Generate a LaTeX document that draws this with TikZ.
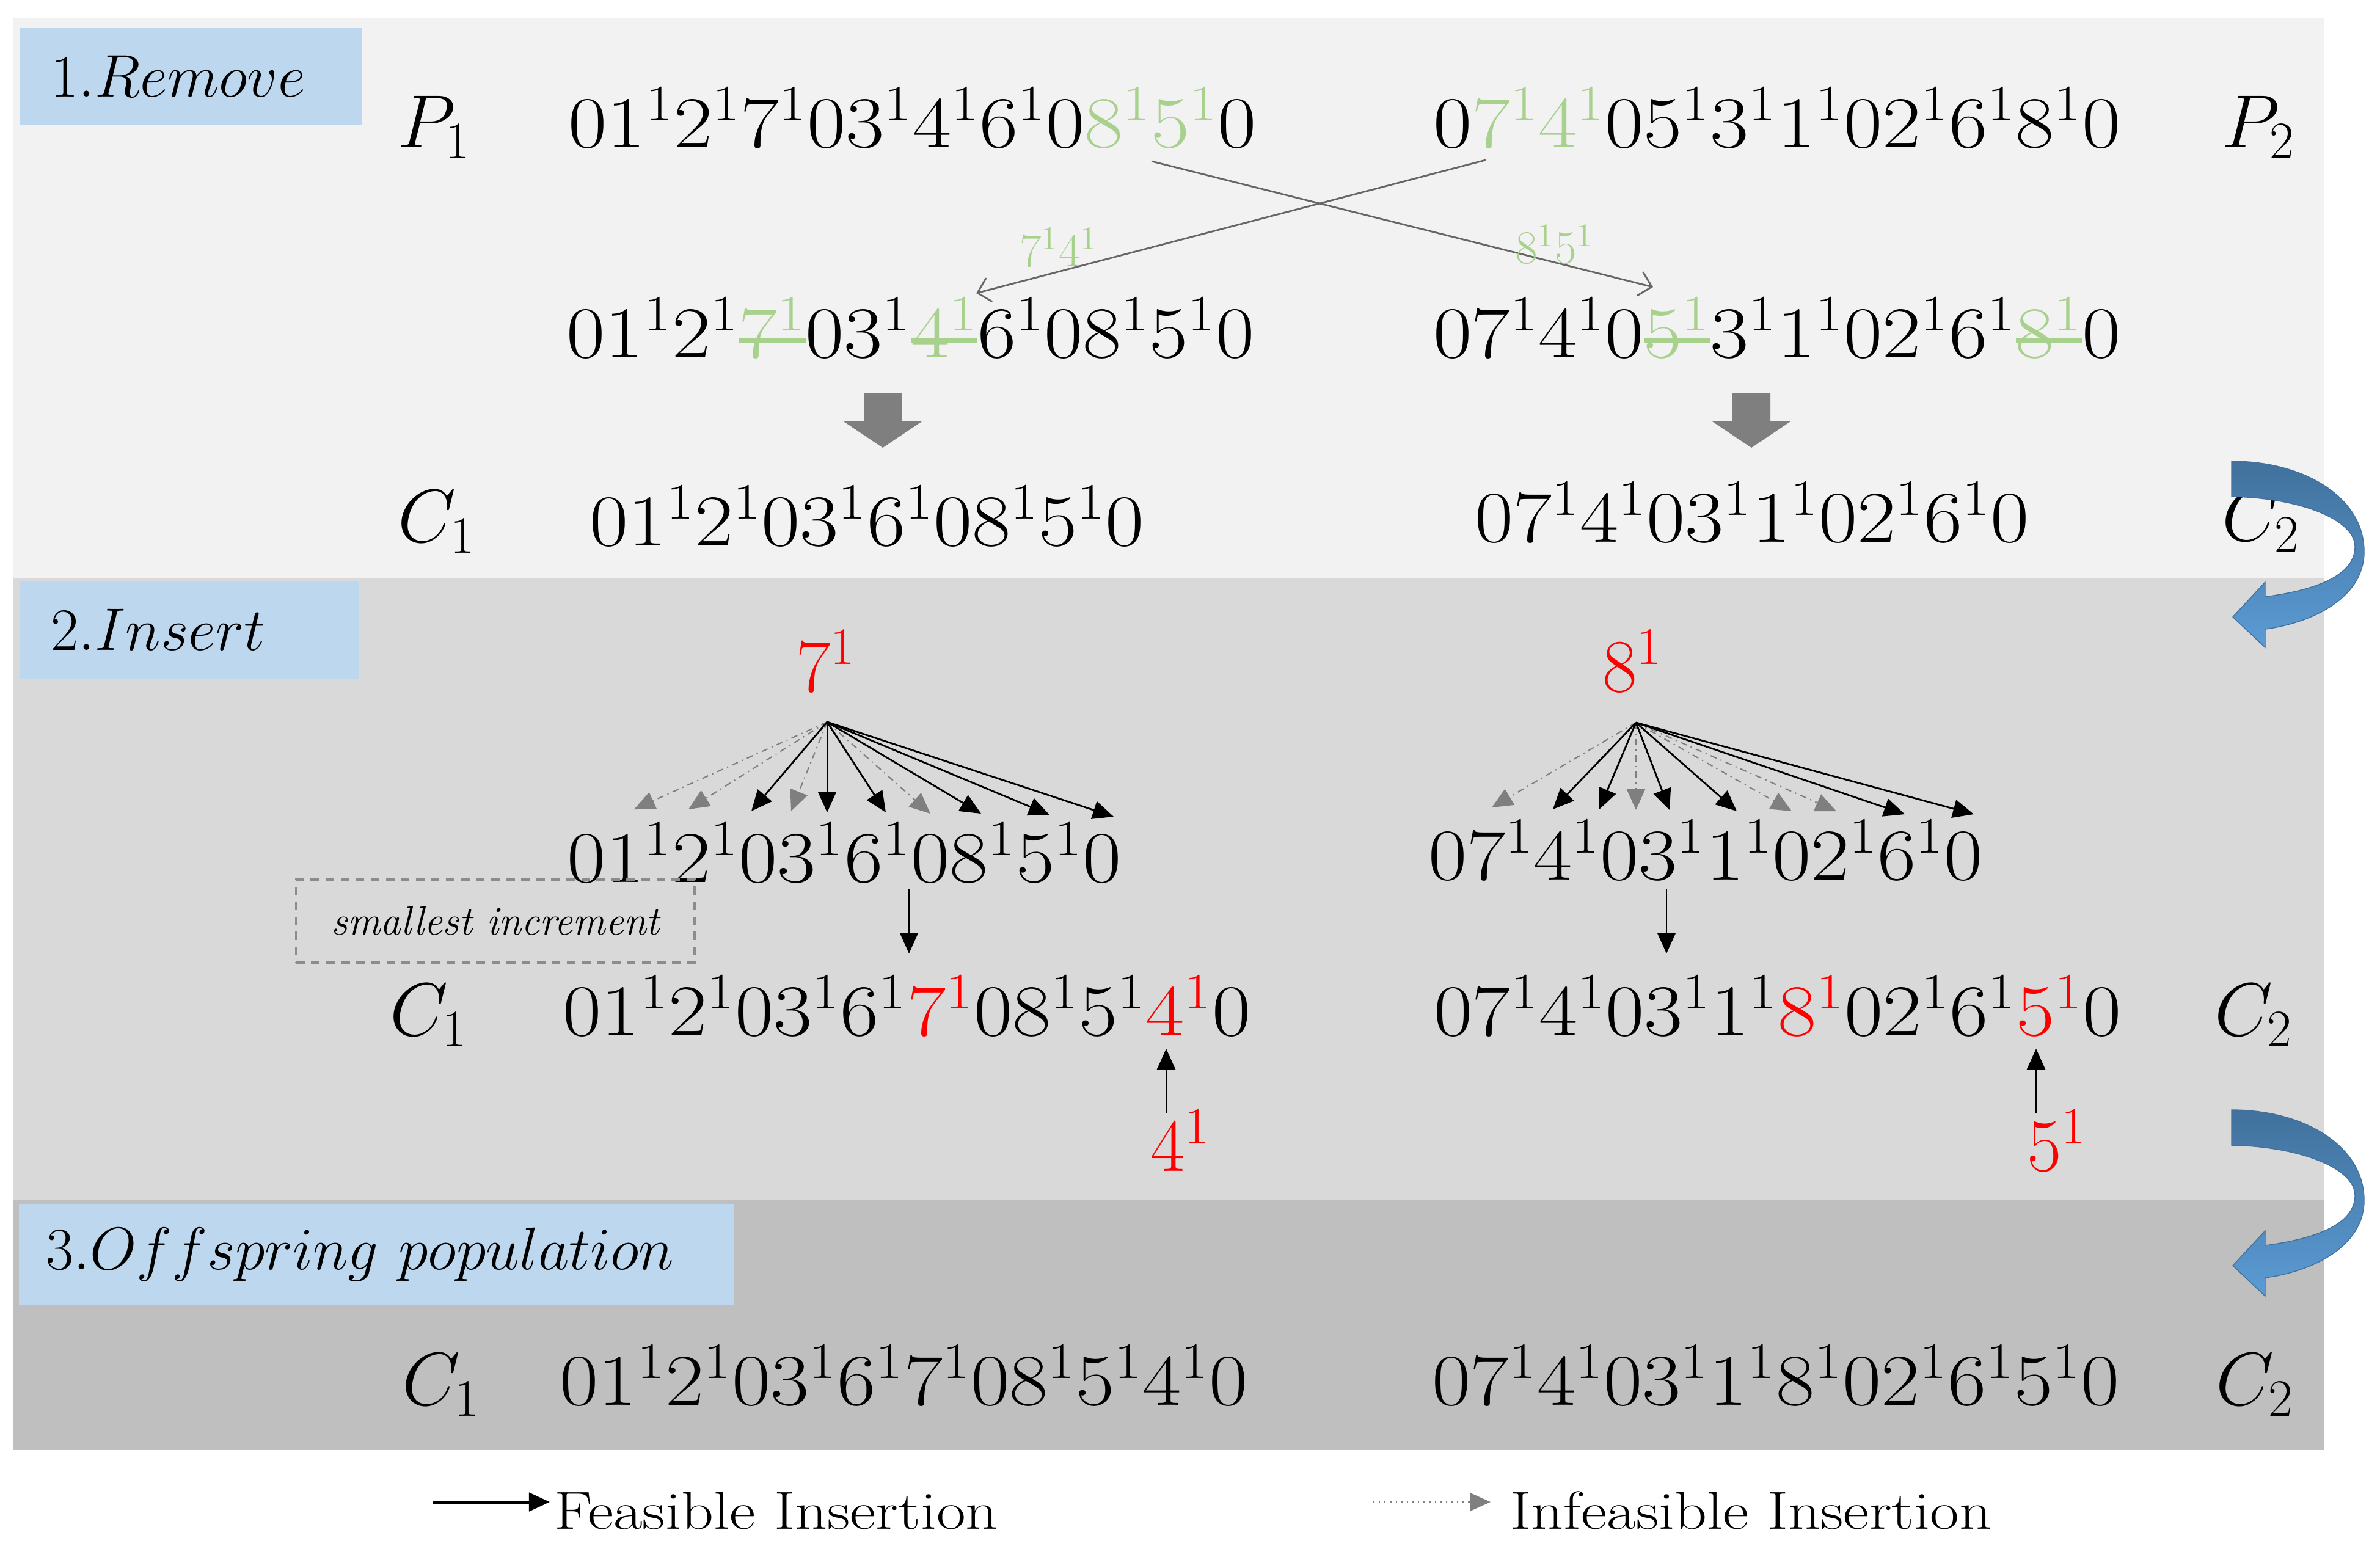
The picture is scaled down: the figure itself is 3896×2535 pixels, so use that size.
\RequirePackage{fix-cm}
\documentclass[tikz,border=0pt]{standalone}
\usepackage{xcolor}
\usepackage{graphicx}
\usetikzlibrary{arrows.meta}

\definecolor{bandA}{HTML}{F2F2F2}
\definecolor{bandB}{HTML}{D9D9D9}
\definecolor{bandC}{HTML}{BFBFBF}
\definecolor{phaseblue}{HTML}{BDD7EE}
\definecolor{rmgreen}{HTML}{A9D18E}
\definecolor{blockgray}{HTML}{7F7F7F}
\definecolor{turndark}{HTML}{41719C}
\definecolor{turnlight}{HTML}{5B9BD5}

% route string, a bit wider than the font gives
\newcommand{\sq}[1]{\scalebox{1.15}[1]{$#1$}}
% removed customer: green, struck through
\newcommand{\strk}[1]{{\color{rmgreen}\setbox0\hbox{$#1^1$}\rlap{\rule[0.2em]{\wd0}{0.06em}}\box0}}
\newcommand{\gr}[1]{{\color{rmgreen}#1}}
\newcommand{\rd}[1]{{\color{red}#1}}

\begin{document}
\begin{tikzpicture}[x=0.01cm, y=-0.01cm,
    seq/.style={font=\fontsize{34}{41}\selectfont, anchor=base, inner sep=0pt},
    seqtag/.style={font=\fontsize{35}{42}\selectfont, anchor=base west, inner sep=0pt},
    phase/.style={anchor=north west, fill=phaseblue, font=\fontsize{28}{34}\selectfont, inner ysep=0pt, align=left},
    feas/.style={draw=black, line width=0.8pt, -{Triangle[length=0.34cm,width=0.3cm]}},
    infeas/.style={draw=blockgray, line width=0.6pt, dash dot, -{Triangle[length=0.34cm,width=0.3cm]}},
    xover/.style={draw=black!60, line width=0.8pt, -{Straight Barb[length=0.2cm,width=0.4cm]}},
    legend/.style={anchor=base west, font=\fontsize{25}{30}\selectfont, inner sep=0pt}]
    \useasboundingbox[fill=white] (0,0) rectangle (3896,2535);

    % bands
    \fill[bandA] (22,30) rectangle (3805,947);
    \fill[bandB] (22,947) rectangle (3805,1965);
    \fill[bandC] (22,1965) rectangle (3805,2374);

    \node[phase, text width=4.57cm, inner xsep=0.51cm, minimum height=1.59cm] (ph1) at (32,45) {$1.Remove$};
    \node[phase, text width=4.52cm, inner xsep=0.51cm, minimum height=1.6cm] (ph2) at (32,950) {$2.Insert$};
    \node[phase, text width=10.8cm, inner xsep=0.45cm, minimum height=1.66cm] (ph3) at (30,1970) {$3.Offspring\ population$};

    % 1. remove
    \node[seqtag] (p1tag) at (651,241) {$P_1$};
    \node[seqtag] (p2tag) at (3637,241) {$P_2$};
    \node[seq] (p1) at (1494,241) {\sq{01^12^17^103^14^16^10\gr{8^15^1}0}};
    \node[seq] (p2) at (2909,241) {\sq{0\gr{7^14^1}05^13^11^102^16^18^10}};

    \node[seq] (r1) at (1491,585) {\sq{01^12^1\strk{7}03^1\strk{4}6^108^15^10}};
    \node[seq] (r2) at (2909,585) {\sq{07^14^10\strk{5}3^11^102^16^1\strk{8}0}};

    \coordinate (x1s) at (1885,264);
    \coordinate (x1e) at (2706,470);
    \coordinate (x2s) at (2432,262);
    \coordinate (x2e) at (1598,480);
    \draw[xover] (x1s) -- (x1e);
    \draw[xover] (x2s) -- (x2e);
    \node[font=\fontsize{22}{26}\selectfont, text=rmgreen, inner sep=0pt] (mv74) at (1733,405) {$7^14^1$};
    \node[font=\fontsize{22}{26}\selectfont, text=rmgreen, inner sep=0pt] (mv85) at (2545,400) {$8^15^1$};

    \foreach \bx in {1445,2867}
        \fill[blockgray] (\bx-31,643) -- (\bx+31,643) -- (\bx+31,690) -- (\bx+64,690)
            -- (\bx,733) -- (\bx-64,690) -- (\bx-31,690) -- cycle;

    \node[seqtag] (c1tag) at (651,887) {$C_1$};
    \node[seqtag] (c2tag) at (3637,885) {$C_2$};
    \node[seq] (c1) at (1419,893) {\sq{01^12^103^16^108^15^10}};
    \node[seq] (c2) at (2868,887) {\sq{07^14^103^11^102^16^10}};

    % 2. insert
    \node[seq, font=\fontsize{35}{42}\selectfont, text=red] (ins7) at (1352,1132) {$7^1$};
    \node[seq, font=\fontsize{35}{42}\selectfont, text=red] (ins8) at (2672,1132) {$8^1$};
    \coordinate (o7) at (1354,1182);
    \coordinate (o8) at (2678,1183);
    \foreach \tx/\ty [count=\i] in {1038/1325, 1127/1325, 1295/1328, 1523/1332}{
        \coordinate (t7n\i) at (\tx,\ty);
        \draw[infeas] (o7) -- (t7n\i);
    }
    \foreach \tx/\ty [count=\i] in {1230/1328, 1354/1330, 1450/1330, 1606/1332, 1718/1334, 1823/1337}{
        \coordinate (t7f\i) at (\tx,\ty);
        \draw[feas] (o7) -- (t7f\i);
    }
    \foreach \tx/\ty [count=\i] in {2442/1322, 2678/1326, 2933/1328, 3006/1328}{
        \coordinate (t8n\i) at (\tx,\ty);
        \draw[infeas] (o8) -- (t8n\i);
    }
    \foreach \tx/\ty [count=\i] in {2542/1325, 2618/1325, 2733/1326, 2843/1328, 3118/1333, 3231/1333}{
        \coordinate (t8f\i) at (\tx,\ty);
        \draw[feas] (o8) -- (t8f\i);
    }

    \node[seq] (s1) at (1382,1444) {\sq{01^12^103^16^108^15^10}};
    \node[seq] (s2) at (2792,1440) {\sq{07^14^103^11^102^16^10}};
    \node[draw=black!45, line width=1.2pt, dash pattern=on 4pt off 3pt, minimum width=6.52cm,
        minimum height=1.36cm, font=\fontsize{19}{23}\selectfont\itshape] (best) at (811,1508) {smallest increment};

    \coordinate (d7a) at (1488,1455);
    \coordinate (d7b) at (1488,1561);
    \coordinate (d8a) at (2728,1455);
    \coordinate (d8b) at (2728,1561);
    \draw[feas] (d7a) -- (d7b);
    \draw[feas] (d8a) -- (d8b);

    \node[seqtag] (n1tag) at (638,1695) {$C_1$};
    \node[seqtag] (n2tag) at (3625,1695) {$C_2$};
    \node[seq] (n1) at (1485,1695) {\sq{01^12^103^16^1\rd{7^1}08^15^1\rd{4^1}0}};
    \node[seq] (n2) at (2910,1695) {\sq{07^14^103^11^1\rd{8^1}02^16^1\rd{5^1}0}};

    \node[seq, font=\fontsize{35}{42}\selectfont, text=red] (ins4) at (1932,1917) {$4^1$};
    \node[seq, font=\fontsize{35}{42}\selectfont, text=red] (ins5) at (3367,1917) {$5^1$};
    \coordinate (u4a) at (1909,1823);
    \coordinate (u4b) at (1909,1717);
    \coordinate (u5a) at (3333,1823);
    \coordinate (u5b) at (3333,1717);
    \draw[feas] (u4a) -- (u4b);
    \draw[feas] (u5a) -- (u5b);

    % 3. offspring
    \node[seqtag] (f1tag) at (658,2300) {$C_1$};
    \node[seqtag] (f2tag) at (3627,2300) {$C_2$};
    \node[seq] (f1) at (1480,2300) {\sq{01^12^103^16^17^108^15^14^10}};
    \node[seq] (f2) at (2907,2300) {\sq{07^14^103^11^18^102^16^15^10}};

    % turn arrows on the right
    \foreach \ay in {755,1817}
        \shade[top color=turndark, bottom color=turnlight, draw=turndark, line width=0.4pt, shift={(3653,\ay)}]
            (0,0) .. controls (120,0) and (217,60) .. (217,148)
            .. controls (217,225) and (130,265) .. (55,275)
            -- (55,305) -- (2,255) -- (55,198) -- (55,222)
            .. controls (130,212) and (202,190) .. (202,140)
            .. controls (202,95) and (110,60) .. (0,58) -- cycle;

    % legend
    \coordinate (lg1) at (708,2459);
    \coordinate (lg2) at (900,2459);
    \coordinate (lg3) at (2248,2459);
    \coordinate (lg4) at (2440,2459);
    \draw[feas, line width=1.4pt] (lg1) -- (lg2);
    \draw[infeas, dotted] (lg3) -- (lg4);
    \node[legend] (lgf) at (907,2503) {\scalebox{1.18}[1]{Feasible Insertion}};
    \node[legend] (lgi) at (2472,2503) {\scalebox{1.18}[1]{Infeasible Insertion}};
\end{tikzpicture}
\end{document}
